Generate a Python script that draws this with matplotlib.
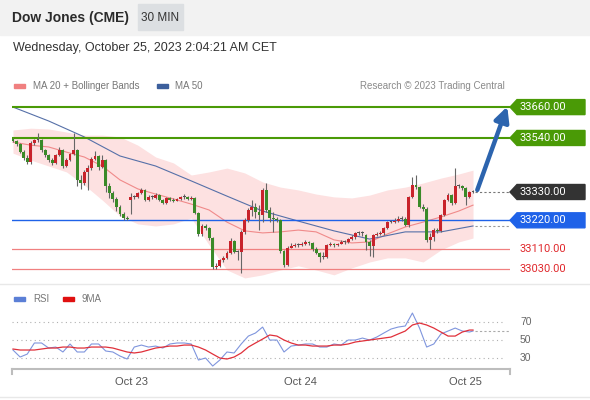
import matplotlib
matplotlib.use("Agg")
import matplotlib.pyplot as plt
from matplotlib.patches import Rectangle, Polygon

plt.rcParams['font.family'] = ['Liberation Sans', 'DejaVu Sans']

# 30 min candles, oldest first
opens = [33536, 33528, 33516, 33485, 33462, 33446, 33520, 33532, 33532, 33493,
         33474, 33454, 33443, 33474, 33493, 33431, 33454, 33478, 33493, 33377,
         33365, 33408, 33423, 33458, 33470, 33427, 33454, 33353, 33326, 33303,
         33272, 33245, 33229, 33299, 33311, 33311, 33326, 33338, 33299, 33311,
         33307, 33318, 33299, 33287, 33307, 33299, 33295, 33303, 33311, 33311,
         33303, 33307, 33248, 33167, 33198, 33190, 33151, 33039, 33043, 33066,
         33074, 33093, 33140, 33097, 33097, 33175, 33221, 33260, 33272, 33252,
         33241, 33338, 33260, 33229, 33225, 33221, 33101, 33047, 33113, 33120,
         33124, 33124, 33128, 33136, 33132, 33109, 33093, 33078, 33078, 33124,
         33128, 33124, 33128, 33136, 33136, 33147, 33155, 33171, 33171, 33163,
         33136, 33120, 33163, 33167, 33171, 33190, 33213, 33213, 33217, 33225,
         33225, 33202, 33311, 33357, 33349, 33272, 33264, 33144, 33155, 33182,
         33179, 33241, 33299, 33318, 33287, 33353, 33353, 33345, 33311, 33330]
highs = [33540, 33532, 33520, 33493, 33474, 33528, 33536, 33559, 33536, 33497,
         33478, 33462, 33478, 33505, 33497, 33462, 33481, 33559, 33497, 33396,
         33415, 33435, 33466, 33489, 33474, 33474, 33458, 33365, 33334, 33311,
         33279, 33252, 33237, 33326, 33318, 33330, 33345, 33342, 33318, 33318,
         33326, 33322, 33303, 33311, 33311, 33307, 33307, 33314, 33322, 33314,
         33314, 33311, 33252, 33206, 33206, 33194, 33155, 33054, 33070, 33081,
         33101, 33151, 33144, 33105, 33182, 33229, 33268, 33299, 33287, 33279,
         33345, 33365, 33272, 33252, 33233, 33225, 33105, 33120, 33132, 33132,
         33132, 33136, 33144, 33140, 33136, 33116, 33097, 33097, 33128, 33136,
         33132, 33132, 33144, 33144, 33151, 33163, 33175, 33179, 33179, 33167,
         33144, 33167, 33175, 33179, 33194, 33217, 33221, 33229, 33237, 33237,
         33233, 33314, 33388, 33396, 33353, 33283, 33272, 33171, 33190, 33190,
         33245, 33303, 33326, 33322, 33423, 33361, 33357, 33349, 33334, 33338]
lows = [33524, 33509, 33481, 33454, 33439, 33439, 33512, 33524, 33485, 33466,
        33446, 33435, 33439, 33470, 33423, 33427, 33450, 33474, 33353, 33342,
        33357, 33338, 33415, 33454, 33415, 33423, 33330, 33307, 33291, 33256,
        33237, 33221, 33221, 33245, 33303, 33307, 33322, 33295, 33295, 33303,
        33303, 33295, 33283, 33283, 33295, 33291, 33295, 33299, 33303, 33299,
        33299, 33245, 33159, 33159, 33182, 33144, 33031, 33031, 33039, 33058,
        33070, 33089, 33093, 33066, 33015, 33167, 33213, 33237, 33229, 33182,
        33213, 33252, 33213, 33175, 33213, 33093, 33039, 33043, 33113, 33116,
        33116, 33120, 33124, 33124, 33101, 33089, 33058, 33070, 33074, 33120,
        33116, 33120, 33128, 33128, 33132, 33144, 33147, 33163, 33159, 33105,
        33081, 33078, 33159, 33163, 33163, 33186, 33210, 33210, 33213, 33217,
        33198, 33194, 33307, 33342, 33268, 33256, 33136, 33109, 33140, 33171,
        33175, 33237, 33295, 33279, 33283, 33345, 33338, 33279, 33307, 33326]
closes = [33528, 33516, 33485, 33462, 33446, 33520, 33532, 33532, 33493, 33474,
          33454, 33443, 33474, 33493, 33431, 33454, 33478, 33493, 33377, 33365,
          33408, 33423, 33458, 33470, 33427, 33454, 33353, 33326, 33303, 33272,
          33245, 33229, 33225, 33311, 33311, 33326, 33338, 33299, 33311, 33311,
          33318, 33299, 33287, 33307, 33299, 33295, 33303, 33311, 33311, 33303,
          33307, 33248, 33167, 33198, 33190, 33151, 33039, 33043, 33066, 33074,
          33093, 33140, 33097, 33097, 33175, 33221, 33260, 33272, 33252, 33241,
          33338, 33260, 33229, 33225, 33221, 33101, 33047, 33113, 33120, 33124,
          33124, 33128, 33136, 33132, 33109, 33093, 33078, 33078, 33124, 33128,
          33124, 33128, 33136, 33136, 33147, 33155, 33171, 33171, 33171, 33136,
          33120, 33163, 33167, 33171, 33190, 33213, 33213, 33217, 33225, 33225,
          33202, 33311, 33357, 33349, 33272, 33264, 33144, 33155, 33182, 33179,
          33241, 33299, 33318, 33287, 33353, 33353, 33345, 33311, 33330, 33330]

# MA 20 + Bollinger bands (read every 5 bars)
band_idx = list(range(0, 126, 5)) + [129]
ma20 = [33524, 33512, 33505, 33485, 33466, 33431, 33377, 33342, 33322, 33303,
        33283, 33260, 33213, 33179, 33171, 33175, 33182, 33175, 33144, 33132,
        33136, 33167, 33194, 33213, 33233, 33256, 33279]
bb_upper = [33571, 33578, 33575, 33563, 33551, 33551, 33544, 33512, 33466, 33443,
            33396, 33408, 33423, 33404, 33369, 33349, 33338, 33322, 33311, 33307,
            33318, 33338, 33349, 33365, 33384, 33400, 33415]
bb_lower = [33481, 33454, 33431, 33408, 33357, 33299, 33237, 33206, 33198, 33206,
            33229, 33124, 33027, 32996, 33008, 33027, 33043, 33027, 33008, 33035,
            33058, 33074, 33074, 33058, 33105, 33136, 33151]

# MA 50 (read every 10 bars)
ma50_idx = list(range(0, 121, 10)) + [129]
ma50 = [33660, 33606, 33544, 33470, 33431, 33373, 33314, 33256, 33217, 33179,
        33147, 33175, 33175, 33198]

# RSI and its 9 period average (read every 2 bars)
rsi_idx = list(range(0, 129, 2)) + [129]
rsi = [38.9, 31.1, 34.4, 46.7, 46.7, 41.1, 42.2, 36.7, 45.6, 36.7,
       36.7, 45.6, 45.6, 37.8, 36.7, 32.2, 28.9, 42.2, 44.4, 42.2,
       43.3, 41.1, 45.6, 46.7, 46.7, 45.6, 27.8, 30.0, 21.1, 27.8,
       36.7, 35.6, 45.6, 54.4, 57.8, 64.4, 50.0, 50.0, 36.7, 43.3,
       44.4, 45.6, 45.6, 42.2, 42.2, 45.6, 44.4, 50.0, 50.0, 52.2,
       50.0, 53.3, 57.8, 62.2, 64.4, 65.6, 80.0, 63.3, 42.2, 45.6,
       56.7, 60.0, 63.3, 60.0, 58.9, 60.0]
rsi_ma9 = [40.0, 38.9, 38.9, 38.9, 40.0, 41.1, 41.1, 42.2, 42.2, 41.1,
           41.1, 42.2, 42.2, 42.2, 41.1, 38.9, 36.7, 35.6, 36.7, 38.9,
           41.1, 42.2, 43.3, 43.3, 44.4, 44.4, 42.2, 38.9, 34.4, 30.0,
           28.9, 31.1, 35.6, 42.2, 46.7, 51.1, 55.6, 54.4, 50.0, 46.7,
           44.4, 44.4, 43.3, 43.3, 43.3, 44.4, 44.4, 45.6, 47.8, 48.9,
           50.0, 51.1, 52.2, 53.3, 56.7, 60.0, 66.7, 68.9, 66.7, 63.3,
           58.9, 54.4, 54.4, 58.9, 61.1, 61.1]

resistances = [33660, 33540]
last_price = 33330
supports = [33220, 33110, 33030]
target = 33660
date_pos = [33.1, 80.5, 127.0]
date_labels = ['Oct 23', 'Oct 24', 'Oct 25']
rsi_levels = [70, 50, 30]

W, H = 590, 400
fig = plt.figure(figsize=(W / 100, H / 100), dpi=100)


def fx(px):
    return px / W


def fy(py):
    return 1 - py / H


GREEN = '#4a9a06'
BLUE = '#1f62e8'
RED_LINE = '#f08080'
RED_TXT = '#e0282c'

# header
fig.patches.append(Rectangle((0, fy(35)), 1, 35 / H, transform=fig.transFigure,
                             color='#f2f2f2', zorder=0))
fig.patches.append(Rectangle((fx(138), fy(30)), 45 / W, 26 / H, transform=fig.transFigure,
                             color='#dcdfe2', zorder=1))
fig.text(fx(12), fy(18), 'Dow Jones (CME)', fontsize=10, fontweight='bold',
         color='#2b2b2b', va='center')
fig.text(fx(160.5), fy(18), '30 MIN', fontsize=8.5, color='#333333', va='center', ha='center')
fig.text(fx(13), fy(48), 'Wednesday, October 25, 2023 2:04:21 AM CET', fontsize=9,
         color='#333333', va='center')

# legends
fig.patches.append(Rectangle((fx(14), fy(88)), 11 / W, 4 / H, transform=fig.transFigure,
                             color='#f08080'))
fig.text(fx(33), fy(86), 'MA 20 + Bollinger Bands', fontsize=7, color='#777777', va='center')
fig.patches.append(Rectangle((fx(157), fy(88)), 11 / W, 4 / H, transform=fig.transFigure,
                             color='#3c5f9c'))
fig.text(fx(175), fy(86), 'MA 50', fontsize=7, color='#777777', va='center')
fig.text(fx(505), fy(86), 'Research \u00a9 2023 Trading Central', fontsize=7,
         color='#8a8a8a', va='center', ha='right')

xlim = (-0.28, 139.37)

# main price chart
ax = fig.add_axes([fx(12), fy(280), fx(510) - fx(12), (280 - 95) / H])
ax.set_xlim(*xlim)
ax.set_ylim(32988, 33707)
ax.axis('off')

ax.fill_between(band_idx, bb_lower, bb_upper, color='#fde1e1', lw=0, zorder=1)
ax.plot(band_idx, ma20, color='#f08a8a', lw=0.8, zorder=2)
ax.plot(ma50_idx, ma50, color='#5670a8', lw=0.8, zorder=2)

for lv in resistances:
    ax.axhline(lv, color=GREEN, lw=1.5, zorder=3)
ax.axhline(supports[0], color=BLUE, lw=1.0, zorder=3)
for lv in supports[1:]:
    ax.axhline(lv, color=RED_LINE, lw=0.9, zorder=3)

idx = list(range(len(closes)))
ax.vlines(idx, lows, highs, color='#666666', lw=0.8, zorder=4)
for i in idx:
    o, c = opens[i], closes[i]
    col = '#3a8a28' if c < o else '#c8232b'
    if c == o:
        col = '#555555'
    h = max(abs(c - o), 3)
    ax.bar(i, h, bottom=min(o, c), width=0.8, color=col, lw=0, zorder=5)

ax.plot([len(closes) - 0.5, xlim[1]], [last_price, last_price], color='#777777',
        lw=0.8, ls=(0, (2, 2)), zorder=3)
ax.plot([ma50_idx[-1] + 0.5, xlim[1]], [ma50[-1], ma50[-1]], color='#999999',
        lw=0.8, ls=(0, (2, 2)), zorder=3)

ax.annotate('', xy=(138.6, target + 2), xytext=(130.2, 33338),
            arrowprops=dict(arrowstyle='-|>', color='#2c64ae', lw=3.2,
                            mutation_scale=22, shrinkA=0, shrinkB=0), zorder=6)

fig.canvas.draw()
inv = fig.transFigure.inverted()


def price_tag(price, face, txt_color):
    yc = inv.transform(ax.transData.transform((0, price)))[1]
    hh = 7.5 / H
    if face is not None:
        pts = [(fx(510), yc), (fx(517), yc - hh), (fx(585), yc - hh),
               (fx(585), yc + hh), (fx(517), yc + hh)]
        fig.patches.append(Polygon(pts, closed=True, transform=fig.transFigure,
                                   color=face, zorder=5))
    fig.text(fx(520), yc, f'{price:.2f}', fontsize=8, color=txt_color,
             va='center', ha='left', family=['Roboto', 'DejaVu Sans'], zorder=6)


for lv in resistances:
    price_tag(lv, GREEN, 'white')
price_tag(last_price, '#333333', 'white')
price_tag(supports[0], BLUE, 'white')
for lv in supports[1:]:
    price_tag(lv, None, RED_TXT)

# separators
fig.add_artist(plt.Line2D([0, 1], [fy(284), fy(284)], color='#e8e8e8', lw=1))
fig.add_artist(plt.Line2D([0, 1], [fy(397), fy(397)], color='#e8e8e8', lw=1))

# RSI panel
fig.patches.append(Rectangle((fx(14), fy(301)), 11 / W, 4 / H, transform=fig.transFigure,
                             color='#5b7fd6'))
fig.text(fx(33), fy(299), 'RSI', fontsize=7, color='#777777', va='center')
fig.patches.append(Rectangle((fx(63), fy(301)), 11 / W, 4 / H, transform=fig.transFigure,
                             color='#e01010'))
fig.text(fx(82), fy(299), '9MA', fontsize=7, color='#777777', va='center')

axr = fig.add_axes([fx(12), fy(369), fx(510) - fx(12), (369 - 290) / H])
axr.set_xlim(*xlim)
axr.set_ylim(17.8, 105.6)
for s in ['top', 'left', 'right']:
    axr.spines[s].set_visible(False)
axr.spines['bottom'].set_color('#bdbdbd')
axr.spines['bottom'].set_linewidth(1.5)
axr.set_yticks([])
axr.set_xticks(date_pos)
axr.set_xticklabels(date_labels, fontsize=8, color='#555555')
axr.tick_params(axis='x', length=0, pad=6)
for xe in xlim:
    axr.plot([xe, xe], [17.8, 12.0], color='#bdbdbd', lw=1.5, clip_on=False)

for lv in rsi_levels:
    axr.plot([xlim[0], 138.0], [lv, lv], color='#b0b0b0', lw=0.8, ls=(0, (1, 3)))
    fig.text(fx(520), fy(369) + (lv - 17.8) / (105.6 - 17.8) * (79 / H), str(lv),
             fontsize=7.5, color='#666666', va='center')

axr.plot(rsi_idx, rsi, color='#7f95dd', lw=0.8)
axr.plot(rsi_idx, rsi_ma9, color='#e0303a', lw=0.9)
axr.plot([rsi_idx[-1] + 0.5, xlim[1]], [rsi[-1], rsi[-1]], color='#aaaaaa',
         lw=0.8, ls=(0, (2, 2)))

fig.savefig('out.png', dpi=100, facecolor='white')
